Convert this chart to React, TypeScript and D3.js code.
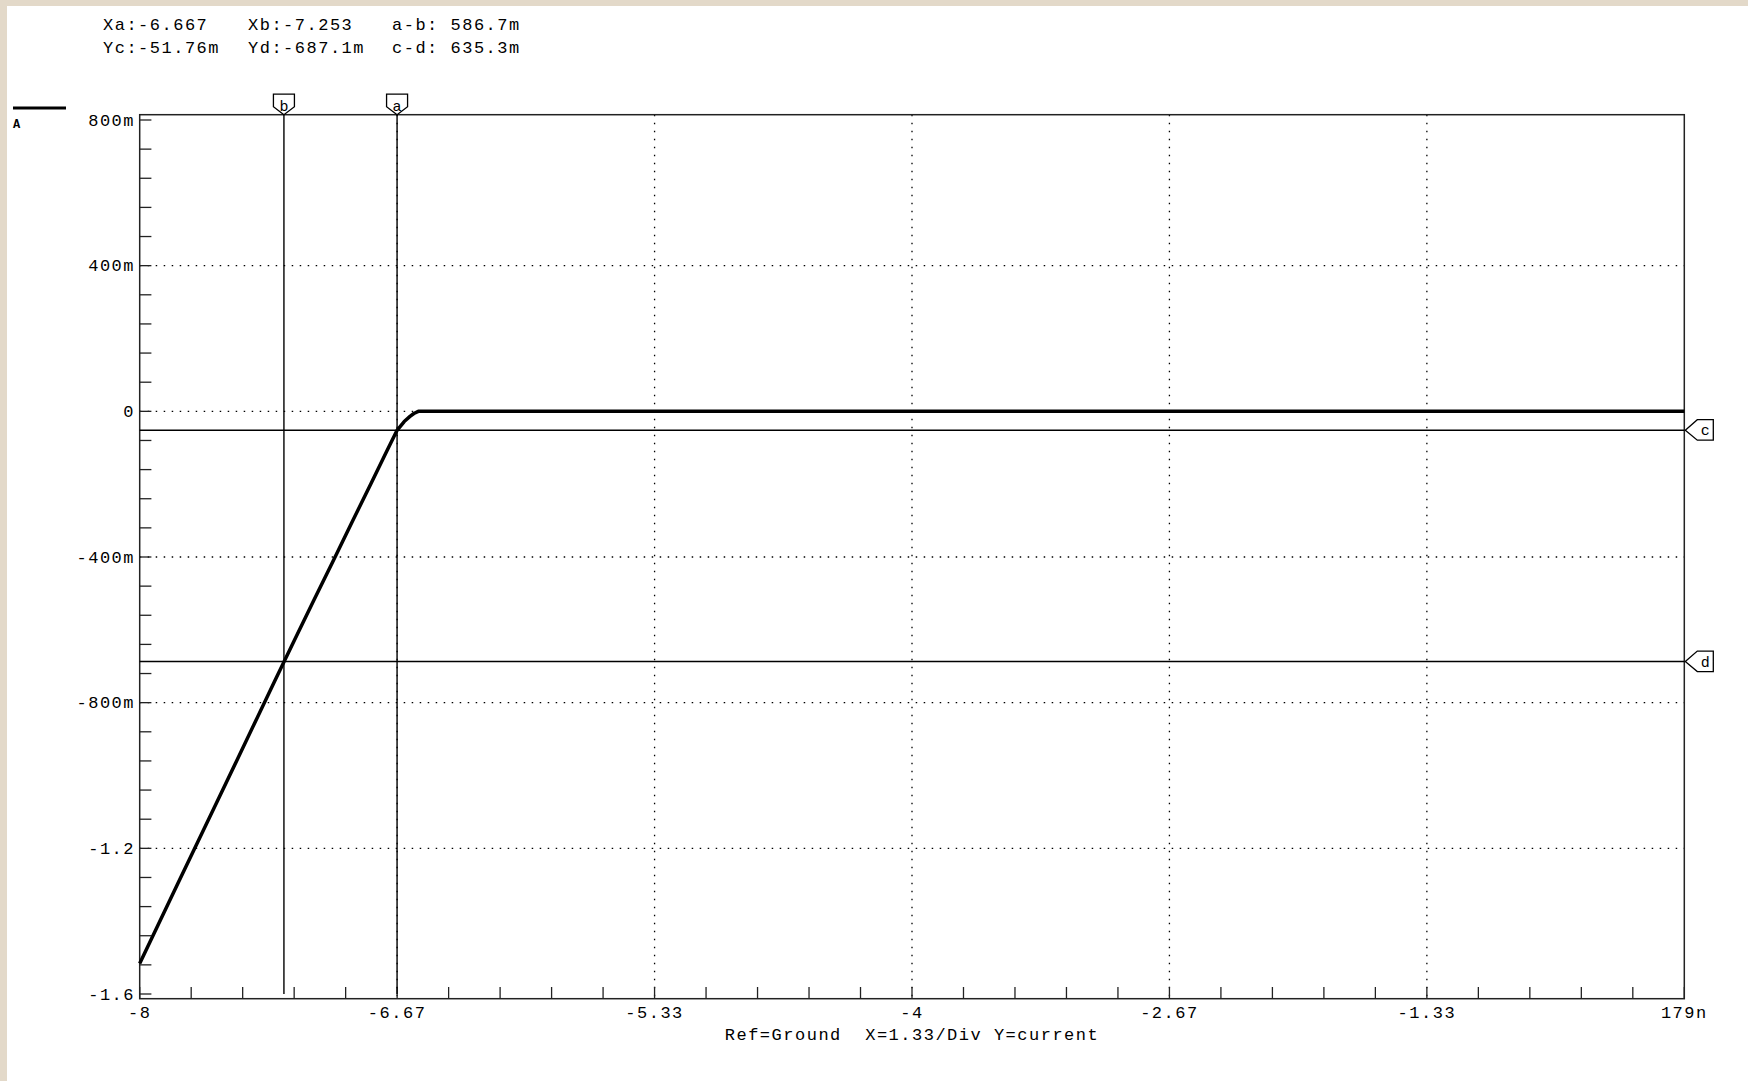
import React from "react";
import * as d3 from "d3";

// ---- data ----
const curveX = [-8, -7.9, -7.8, -7.7, -7.6, -7.5, -7.4, -7.3, -7.2, -7.1, -7.0, -6.9, -6.8, -6.72, -6.667, -6.63, -6.6, -6.58, -6.557, 0];
const curveY = [-1.516, -1.405, -1.294, -1.183, -1.073, -0.962, -0.851, -0.74, -0.63, -0.521, -0.413, -0.304, -0.196, -0.109, -0.052, -0.028, -0.014, -0.006, 0, 0];

const xMajorValues = [-8, -6.6667, -5.3333, -4, -2.6667, -1.3333, 0];
const xMajorLabels = ["-8", "-6.67", "-5.33", "-4", "-2.67", "-1.33", "179n"];
const yMajorValues = [0.8, 0.4, 0, -0.4, -0.8, -1.2, -1.6];
const yMajorLabels = ["800m", "400m", "0", "-400m", "-800m", "-1.2", "-1.6"];

const vCursors = [
  { name: "b", x: -7.253 },
  { name: "a", x: -6.667 },
];
const hCursors = [
  { name: "c", y: -0.05176 },
  { name: "d", y: -0.6871 },
];

const headerRow1 = ["Xa:-6.667", "Xb:-7.253", "a-b: 586.7m"];
const headerRow2 = ["Yc:-51.76m", "Yd:-687.1m", "c-d: 635.3m"];
const footerText = "Ref=Ground  X=1.33/Div Y=current";

// ---- layout ----
const W = 1748;
const H = 1081;
const frame = { left: 139.7, right: 1684.3, top: 114.7, bottom: 998.7 };
const FONT = "'Liberation Mono', 'DejaVu Sans Mono', monospace";
const textStyle: React.CSSProperties = { fontFamily: FONT, fontSize: 17, letterSpacing: 1.5, whiteSpace: "pre" };

export default function App() {
  const x = d3.scaleLinear().domain([-8, 0]).range([frame.left, frame.right]);
  const y = d3.scaleLinear().domain([0.8, -1.6]).range([120, 994]);

  const pts = curveX.map((v, i) => [v, curveY[i]] as [number, number]);
  const line = d3
    .line<[number, number]>()
    .x((d) => x(d[0]))
    .y((d) => y(d[1]));

  const xMinor = d3.range(0, 31).map((i) => -8 + (i * 8) / 30);
  const yMinor = d3.range(0, 31).map((i) => 0.8 - i * 0.08);

  const colX = [103, 248, 392];

  return (
    <svg width={W} height={H} style={{ position: "absolute", left: 0, top: 0 }}>
      <rect x={0} y={0} width={W} height={H} fill="#e3d9c9" />
      <rect x={7} y={6} width={W - 7} height={H - 6} fill="#ffffff" />

      {/* header */}
      {headerRow1.map((t, i) => (
        <text key={"h1" + i} x={colX[i]} y={30} style={textStyle}>{t}</text>
      ))}
      {headerRow2.map((t, i) => (
        <text key={"h2" + i} x={colX[i]} y={53.3} style={textStyle}>{t}</text>
      ))}

      {/* legend */}
      <line x1={13} x2={66} y1={108} y2={108} stroke="#000" strokeWidth={3} />
      <text x={13} y={128} style={{ fontFamily: FONT, fontSize: 12, fontWeight: "bold" }}>A</text>

      {/* dotted grid */}
      {xMajorValues.slice(1, -1).map((v, i) => (
        <line key={"gx" + i} x1={x(v)} x2={x(v)} y1={frame.top} y2={frame.bottom} stroke="#000" strokeWidth={1.3} strokeDasharray="1.5 6.5" />
      ))}
      {yMajorValues.slice(1, -1).map((v, i) => (
        <line key={"gy" + i} x1={frame.left} x2={frame.right} y1={y(v)} y2={y(v)} stroke="#000" strokeWidth={1.3} strokeDasharray="1.5 6.5" />
      ))}

      {/* frame */}
      <rect x={frame.left} y={frame.top} width={frame.right - frame.left} height={frame.bottom - frame.top} fill="none" stroke="#222" strokeWidth={1.5} />

      {/* minor ticks */}
      {xMinor.map((v, i) => (
        <line key={"tx" + i} x1={x(v)} x2={x(v)} y1={frame.bottom} y2={frame.bottom - 11.7} stroke="#222" strokeWidth={1.3} />
      ))}
      {yMinor.map((v, i) => (
        <line key={"ty" + i} x1={frame.left} x2={frame.left + 11.7} y1={y(v)} y2={y(v)} stroke="#222" strokeWidth={1.3} />
      ))}

      {/* tick labels */}
      {xMajorValues.map((v, i) => (
        <text key={"lx" + i} x={x(v)} y={1018} textAnchor="middle" style={textStyle}>{xMajorLabels[i]}</text>
      ))}
      {yMajorValues.map((v, i) => (
        <text key={"ly" + i} x={135} y={y(v) + 5.5} textAnchor="end" style={textStyle}>{yMajorLabels[i]}</text>
      ))}
      <text x={(frame.left + frame.right) / 2} y={1040} textAnchor="middle" style={textStyle}>{footerText}</text>

      {/* data curve */}
      <path d={line(pts) || ""} fill="none" stroke="#000" strokeWidth={3.5} strokeLinejoin="round" />

      {/* vertical cursors */}
      {vCursors.map((c) => {
        const cx = x(c.x);
        return (
          <g key={c.name}>
            <line x1={cx} x2={cx} y1={frame.top} y2={y(-1.6)} stroke="#000" strokeWidth={1.4} />
            <path
              d={`M${cx},${frame.top} L${cx - 10.5},${frame.top - 8} L${cx - 10.5},${frame.top - 20.5} L${cx + 10.5},${frame.top - 20.5} L${cx + 10.5},${frame.top - 8} Z`}
              fill="#fff"
              stroke="#000"
              strokeWidth={1.3}
            />
            <text x={cx} y={frame.top - 4} textAnchor="middle" style={{ fontFamily: FONT, fontSize: 15 }}>{c.name}</text>
          </g>
        );
      })}

      {/* horizontal cursors */}
      {hCursors.map((c) => {
        const cy = y(c.y);
        const tip = frame.right + 1;
        return (
          <g key={c.name}>
            <line x1={frame.left} x2={frame.right} y1={cy} y2={cy} stroke="#000" strokeWidth={1.4} />
            <path
              d={`M${tip},${cy} L${tip + 12},${cy - 10.5} L${tip + 28},${cy - 10.5} L${tip + 28},${cy + 10} L${tip + 12},${cy + 10} Z`}
              fill="#fff"
              stroke="#000"
              strokeWidth={1.3}
            />
            <text x={tip + 20} y={cy + 5} textAnchor="middle" style={{ fontFamily: FONT, fontSize: 15 }}>{c.name}</text>
          </g>
        );
      })}
    </svg>
  );
}
